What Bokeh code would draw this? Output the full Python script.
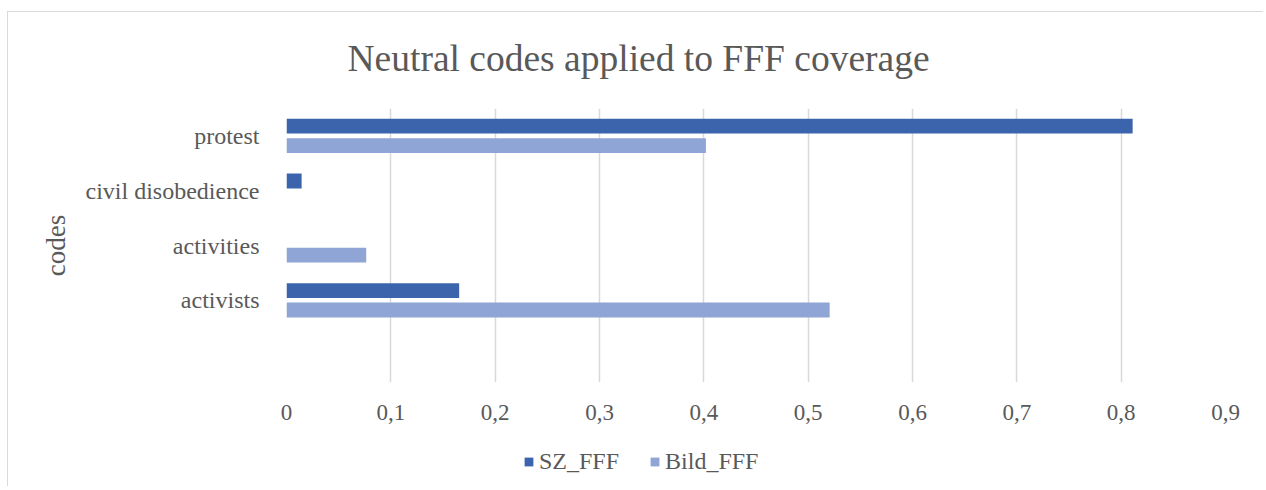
from bokeh.plotting import figure
from bokeh.layouts import column
from bokeh.models import (ColumnDataSource, FactorRange, Range1d, FixedTicker,
                          Legend, LegendItem, Title)
from bokeh.transform import dodge
from bokeh.embed import file_html
from bokeh.resources import INLINE

# ---- data ----
categories = ["protest", "civil disobedience", "activities", "activists"]
sz_fff = [0.811, 0.0145, 0.0, 0.1655]
bild_fff = [0.402, 0.0, 0.0764, 0.5206]
tick_values = [0, 0.1, 0.2, 0.3, 0.4, 0.5, 0.6, 0.7, 0.8, 0.9]
tick_labels = ["0", "0,1", "0,2", "0,3", "0,4", "0,5", "0,6", "0,7", "0,8", "0,9"]
series_names = ["SZ_FFF", "Bild_FFF"]

FONT = "Liberation Serif"
TXT = "#595959"
C_SZ = "#3B64AD"
C_BILD = "#8FA5D5"
EDGE = "#d9d9d9"

factors = [" "] + categories[::-1]
src = ColumnDataSource(dict(cat=categories, sz=sz_fff, bild=bild_fff))

p = figure(y_range=FactorRange(*factors, range_padding=0),
           x_range=Range1d(0, 0.9),
           frame_width=939, frame_height=274,
           min_border_left=279, min_border_right=38,
           min_border_top=104, min_border_bottom=50,
           output_backend="svg", toolbar_location=None)
p.border_fill_alpha = 0

p.hbar(y=dodge("cat", 0.177, range=p.y_range), right="sz", left=0,
       height=0.27, source=src, color=C_SZ, line_color=None)
p.hbar(y=dodge("cat", -0.177, range=p.y_range), right="bild", left=0,
       height=0.27, source=src, color=C_BILD, line_color=None)

title = Title(text="Neutral codes applied to FFF coverage", align="left",
              offset=61, standoff=60, text_font=FONT, text_font_size="37.5px",
              text_color=TXT, text_font_style="normal")
p.add_layout(title, "above")

p.outline_line_color = None
p.ygrid.grid_line_color = None
p.xgrid.grid_line_color = EDGE
p.xgrid.grid_line_width = 1.5

xa = p.xaxis[0]
xa.ticker = FixedTicker(ticks=tick_values)
xa.major_label_overrides = {v: l for v, l in zip(tick_values, tick_labels)}
xa.axis_line_color = None
xa.major_tick_line_color = None
xa.minor_tick_line_color = None
xa.major_label_standoff = 16
xa.major_label_text_font = FONT
xa.major_label_text_font_size = "23px"
xa.major_label_text_color = TXT

ya = p.yaxis[0]
ya.axis_line_color = None
ya.major_tick_line_color = None
ya.minor_tick_line_color = None
ya.major_label_standoff = 21
ya.major_label_text_font = FONT
ya.major_label_text_font_size = "24px"
ya.major_label_text_color = TXT
ya.axis_label = "codes"
ya.axis_label_text_font = FONT
ya.axis_label_text_font_size = "27px"
ya.axis_label_text_font_style = "normal"
ya.axis_label_text_color = TXT
ya.axis_label_standoff = 12

# ---- legend strip below the chart ----
lf = figure(width=1256, height=54, x_range=Range1d(0, 1), y_range=Range1d(0, 1),
            x_axis_type=None, y_axis_type=None,
            min_border=0, min_border_left=0, min_border_right=0,
            min_border_top=0, min_border_bottom=0,
            output_backend="svg", toolbar_location=None)
lf.outline_line_color = None
lf.border_fill_alpha = 0
lf.background_fill_alpha = 0
lf.grid.visible = False
# zero-length proxy bars, used only as legend swatches
k1 = lf.hbar(y=[0.5], right=[0], left=[0], height=0.0, color=C_SZ, line_color=None)
k2 = lf.hbar(y=[0.5], right=[0], left=[0], height=0.0, color=C_BILD, line_color=None)

legend = Legend(items=[LegendItem(label=series_names[0], renderers=[k1]),
                       LegendItem(label=series_names[1], renderers=[k2])],
                location=(237, 11), orientation="horizontal",
                glyph_width=11, glyph_height=11, label_standoff=5, spacing=30,
                padding=0, margin=0, border_line_color=None,
                background_fill_alpha=0,
                label_text_font=FONT, label_text_font_size="24px",
                label_text_color=TXT)
lf.add_layout(legend, "center")

layout = column(p, lf, spacing=0,
                styles={"margin-left": "7px", "margin-top": "4px",
                        "background-image": f"linear-gradient({EDGE}, {EDGE}), linear-gradient({EDGE}, {EDGE})",
                        "background-size": "100% 1px, 1px 100%",
                        "background-position": "0 7px, 0 7px",
                        "background-repeat": "no-repeat"})

open("out.html", "w").write(file_html(layout, INLINE))
